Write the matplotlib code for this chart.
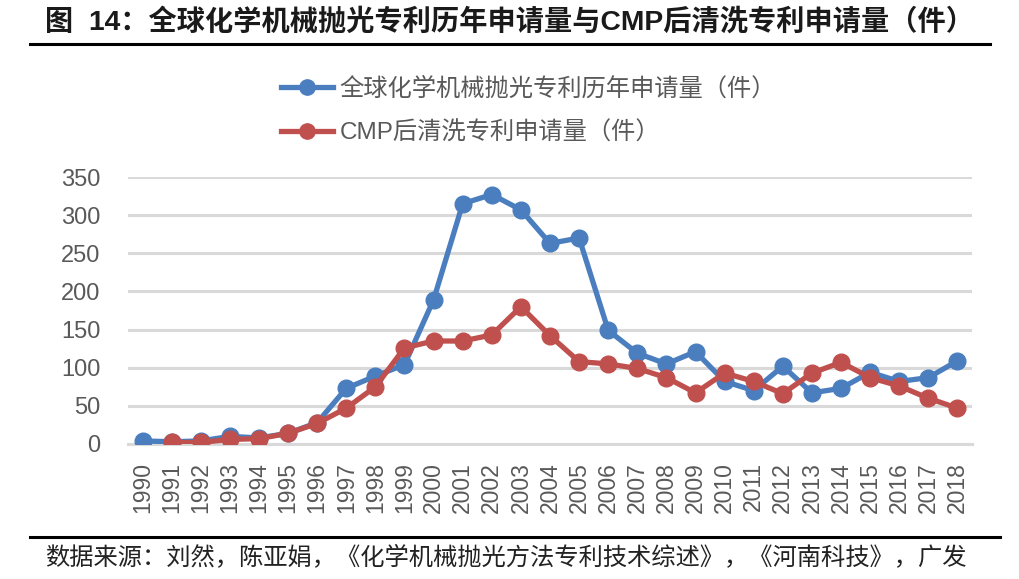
import matplotlib
matplotlib.use("Agg")
import matplotlib.pyplot as plt
from matplotlib.lines import Line2D

plt.rcParams['font.family'] = ['Liberation Sans', 'Noto Sans CJK SC', 'DejaVu Sans']

years = [str(y) for y in range(1990, 2019)]
global_cmp = [4, 3, 4, 10, 8, 14, 28, 73, 89, 104, 189, 315, 327, 307, 263, 270,
              149, 119, 105, 121, 82, 70, 102, 67, 73, 94, 82, 87, 109]
post_clean = [None, 2, 2, 6, 7, 14, 27, 47, 75, 126, 135, 135, 143, 180, 142, 108,
              105, 99, 87, 67, 93, 82, 66, 93, 107, 87, 76, 60, 47]
yticks = [0, 50, 100, 150, 200, 250, 300, 350]

series_names = ['全球化学机械抛光专利历年申请量（件）', 'CMP后清洗专利申请量（件）']
title_text = '图  14：全球化学机械抛光专利历年申请量与CMP后清洗专利申请量（件）'
source_text = '数据来源：刘然，陈亚娟，《化学机械抛光方法专利技术综述》，《河南科技》，广发'

BLUE = '#4A7EBF'
RED = '#C0504D'
GRAY = '#595959'

fig = plt.figure(figsize=(10.19, 5.79), dpi=100)
ax = fig.add_axes([128/1019, 1-444/579, (972-128)/1019, (444-177)/579])

x = list(range(len(years)))
xr = [i for i, v in zip(x, post_clean) if v is not None]
vr = [v for v in post_clean if v is not None]

ax.plot(x, global_cmp, color=BLUE, lw=3.8, marker='o', ms=12, zorder=3)
ax.plot(xr, vr, color=RED, lw=3.8, marker='o', ms=12, zorder=4)

ax.set_xlim(-0.5, len(years) - 0.5)
ax.set_ylim(0, 350)
ax.set_yticks(yticks)
ax.set_xticks(x)
ax.set_xticklabels(years, rotation=90)
ax.yaxis.grid(True, color='#D9D9D9', lw=2.2)
ax.set_axisbelow(True)
for s in ax.spines.values():
    s.set_visible(False)
ax.spines['bottom'].set_visible(True)
ax.spines['bottom'].set_color('#D9D9D9')
ax.spines['bottom'].set_linewidth(2.2)
ax.tick_params(axis='both', length=0, colors=GRAY)
ax.tick_params(axis='y', labelsize=17, pad=20)
ax.tick_params(axis='x', labelsize=16.5, pad=13)

handles = [Line2D([], [], color=BLUE, lw=3.8, marker='o', ms=11),
           Line2D([], [], color=RED, lw=3.8, marker='o', ms=11)]
leg = fig.legend(handles, series_names, loc='upper left',
                 bbox_to_anchor=(281/1019, 1-77/579), frameon=False,
                 prop={'family': ['Liberation Sans', 'Noto Sans CJK SC'], 'size': 17.5},
                 handlelength=2.15, handletextpad=0.25, labelspacing=0.85,
                 borderaxespad=0, borderpad=0)
for t in leg.get_texts():
    t.set_color(GRAY)

fig.text(45/1019, 1-22/579, title_text, fontsize=20.3, fontweight='bold',
         va='center', ha='left', color='#1a1a1a')
fig.add_artist(Line2D([30/1019, 990/1019], [1-44/579, 1-44/579], color='black', lw=2.2))
fig.add_artist(Line2D([30/1019, 1000/1019], [1-537/579, 1-537/579], color='black', lw=2.2))
fig.text(45/1019, 1-557/579, source_text, fontsize=17.5, va='center', ha='left',
         color='#222222', family=['Noto Sans CJK SC'])

fig.savefig('out.png', dpi=100)
